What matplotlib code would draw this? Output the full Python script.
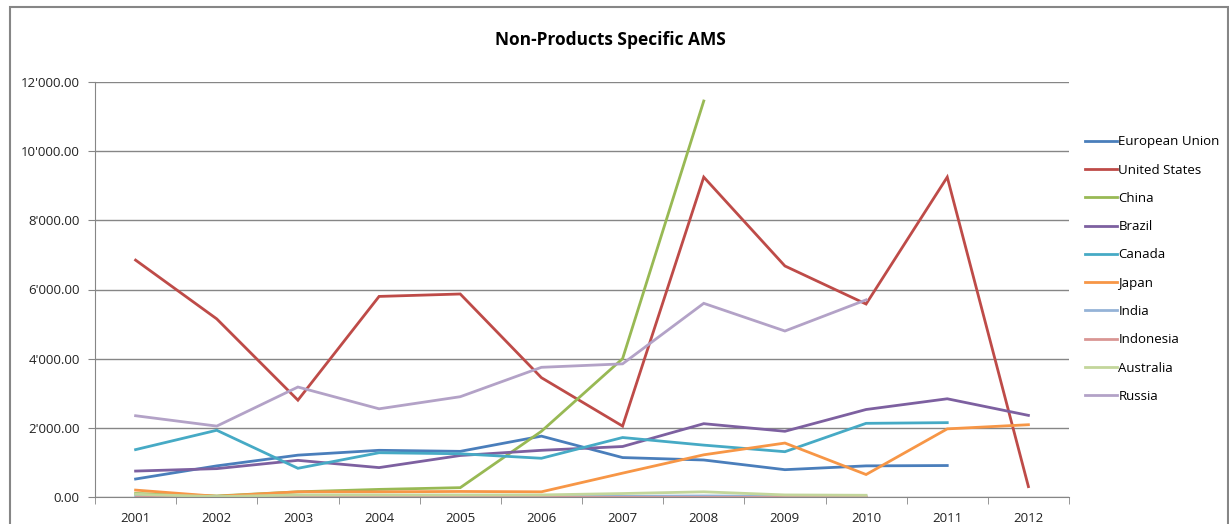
import numpy as np
import matplotlib
matplotlib.use('Agg')
import matplotlib.pyplot as plt
from matplotlib.ticker import FuncFormatter
from matplotlib.patches import Rectangle

plt.rcParams['font.family'] = ['Open Sans', 'DejaVu Sans']

years = list(range(2001, 2013))

# values, None where a series has no point
eu = [520, 900, 1210, 1350, 1320, 1760, 1140, 1070, 790, 900, 910, None]
us = [6850, 5150, 2800, 5800, 5870, 3450, 2050, 9250, 6680, 5580, 9250, 300]
china = [100, 30, 150, 220, 270, 1900, 4000, 11450, None, None, None, None]
brazil = [750, 820, 1060, 850, 1200, 1350, 1460, 2120, 1900, 2530, 2840, 2360]
canada = [1370, 1930, 830, 1280, 1250, 1120, 1720, 1500, 1310, 2130, 2150, None]
japan = [200, 20, 150, 150, 160, 150, 690, 1220, 1560, 650, 1970, 2090]
india = [20, 10, 10, 10, 10, 10, 20, 30, 20, 20, None, None]
indonesia = [0, 0, 0, 0, 0, 0, 0, 0, 0, 0, None, None]
australia = [80, 10, 60, 60, 60, 60, 100, 150, 60, 50, None, None]
russia = [2350, 2050, 3180, 2550, 2900, 3750, 3850, 5600, 4800, 5700, None, None]

series = [
    ('European Union', eu, '#4A7EBB'),
    ('United States', us, '#BE4B48'),
    ('China', china, '#98B954'),
    ('Brazil', brazil, '#7D60A0'),
    ('Canada', canada, '#46AAC5'),
    ('Japan', japan, '#F79646'),
    ('India', india, '#95B3D7'),
    ('Indonesia', indonesia, '#D99694'),
    ('Australia', australia, '#C3D69B'),
    ('Russia', russia, '#B3A2C7'),
]

fig = plt.figure(figsize=(12.29, 5.24), dpi=100)
ax = fig.add_axes([95 / 1229, 1 - 497 / 524, (1069 - 95) / 1229, (497 - 82) / 524])

for name, vals, col in series:
    y = np.array([np.nan if v is None else v for v in vals], dtype=float)
    ax.plot(years, y, color=col, lw=2.3, label=name, solid_joinstyle='miter')

ax.set_xlim(2000.5, 2012.5)
ax.set_ylim(0, 12000)
ax.set_yticks(np.arange(0, 12001, 2000))
ax.yaxis.set_major_formatter(FuncFormatter(lambda v, p: '{:,.2f}'.format(v).replace(',', "'")))
ax.set_xticks(years)
ax.set_xticks(np.arange(2000.5, 2013, 1), minor=True)
ax.tick_params(axis='x', which='major', length=0, pad=11, labelsize=9.5, colors='#222222')
ax.tick_params(axis='x', which='minor', length=5, color='#868686', direction='out')
ax.tick_params(axis='y', length=5, color='#868686', labelsize=9.5, colors='#222222', pad=6)

ax.grid(axis='y', color='#868686', lw=1)
ax.set_axisbelow(True)
for side in ['top', 'right']:
    ax.spines[side].set_visible(False)
for side in ['left', 'bottom']:
    ax.spines[side].set_color('#868686')

fig.text(610 / 1229, 1 - 40 / 524, 'Non-Products Specific AMS', ha='center', va='center',
         fontsize=12.5, fontweight='bold')

handles, labels = ax.get_legend_handles_labels()
for h in handles:
    h.set_linewidth(2)
leg = fig.legend(handles, labels, loc='upper left', bbox_to_anchor=(1080 / 1229, 1 - 130 / 524),
                 frameon=False, fontsize=9.5, handlelength=2.4, handletextpad=0.1,
                 labelspacing=1.16, borderaxespad=0)

# chart frame
fig.patches.append(Rectangle((10 / 1229, -0.05), (1228 - 10) / 1229, 1.05 - 7 / 524,
                             transform=fig.transFigure, fill=False, edgecolor='#868686', lw=1.5))

fig.savefig('out.png', dpi=100)
